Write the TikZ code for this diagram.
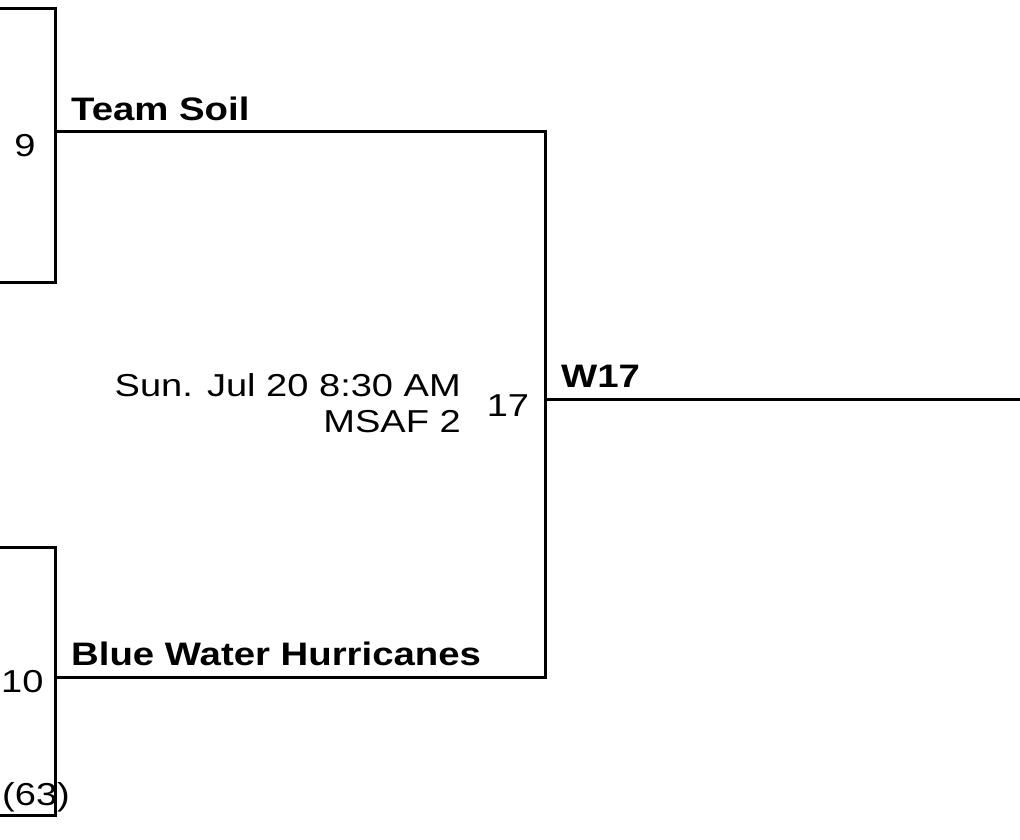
\documentclass[tikz,border=0pt]{standalone}
\usepackage{fontspec}
\setmainfont{Liberation Sans}
\newfontfamily\bwide{Liberation Sans}[FakeStretch=1.18]
\newfontfamily\rwide{Liberation Sans}[FakeStretch=1.2]
\begin{document}
\begin{tikzpicture}[x=1pt,y=-1pt,
  ln/.style={line width=3pt},
  tm/.style={font=\bwide\fontsize{32.5}{36}\selectfont\bfseries,anchor=base west,inner sep=0},
  nm/.style={font=\rwide\fontsize{31.7}{36}\selectfont,inner sep=0}]
\useasboundingbox (0,0) rectangle (1020,839);
\coordinate (a1) at (0,8); \coordinate (a2) at (55,8); \coordinate (a3) at (55,282); \coordinate (a4) at (0,282);
\coordinate (b1) at (0,547); \coordinate (b2) at (55,547); \coordinate (b3) at (55,815); \coordinate (b4) at (0,815);
\coordinate (t1) at (55,131); \coordinate (t2) at (545,131);
\coordinate (u1) at (55,677); \coordinate (u2) at (545,677);
\coordinate (w1) at (545,399); \coordinate (w2) at (1020,399);
\draw[ln] (a1)--(a2)--(a3)--(a4);
\draw[ln] (b1)--(b2)--(b3)--(b4);
\draw[ln] (t1)--(t2)--(u2)--(u1);
\draw[ln] (w1)--(w2);
\node[tm] (ts) at (71,120) {Team Soil};
\node[tm] (bw) at (71,665) {Blue Water Hurricanes};
\node[tm] (w17) at (561,387) {W17};
\node[nm,anchor=base] (n9) at (25,156) {9};
\node[nm,anchor=base west] (n10) at (1,692) {10};
\node[nm,anchor=base west] (n63) at (2,805) {(63)};
\node[nm,anchor=base] (n17) at (508,416) {17};
\node[nm,anchor=base east] (d1) at (461,396) {Sun. Jul 20 8:30 AM};
\node[nm,anchor=base east] (d2) at (461,432) {MSAF 2};
\end{tikzpicture}
\end{document}
